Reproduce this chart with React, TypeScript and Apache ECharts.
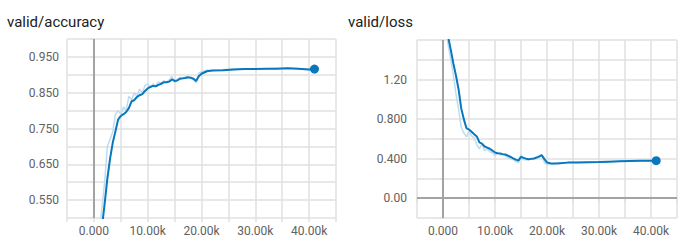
import React, { useEffect, useRef } from "react";
import * as echarts from "echarts";

const steps = [
  0, 500, 1000, 1500, 2000, 2500, 3000, 3500, 4000, 4500, 5000, 5500, 6000, 6500, 7000, 7500, 8000, 8500, 9000, 9500,
  10000, 10500, 11000, 11500, 12000, 12500, 13000, 13500, 14000, 14500, 15000, 15500, 16000, 16500, 17000, 17500,
  18000, 18500, 19000, 19500, 20000, 21000, 22000, 24000, 26000, 28000, 30000, 32000, 34000, 36000, 38000, 40000, 41000,
];

const accSmooth = [
  0.2, 0.3, 0.4, 0.475, 0.54, 0.61, 0.665, 0.71, 0.742, 0.775, 0.785, 0.79, 0.796, 0.807, 0.826, 0.829, 0.838, 0.843,
  0.846, 0.855, 0.862, 0.866, 0.869, 0.868, 0.872, 0.875, 0.879, 0.879, 0.881, 0.887, 0.883, 0.884, 0.889, 0.89, 0.891,
  0.893, 0.892, 0.889, 0.883, 0.896, 0.903, 0.91, 0.912, 0.913, 0.915, 0.916, 0.916, 0.917, 0.917, 0.918, 0.917, 0.915,
  0.916,
];

const accRaw = [
  0.25, 0.38, 0.46, 0.53, 0.6, 0.7, 0.72, 0.74, 0.79, 0.8, 0.79, 0.81, 0.8, 0.84, 0.83, 0.85, 0.84, 0.86, 0.85, 0.87,
  0.875, 0.865, 0.875, 0.868, 0.88, 0.876, 0.884, 0.879, 0.886, 0.895, 0.878, 0.888, 0.893, 0.889, 0.894, 0.893, 0.891,
  0.886, 0.878, 0.905, 0.908, 0.913, 0.912, 0.914, 0.916, 0.916, 0.917, 0.917, 0.918, 0.918, 0.917, 0.914, 0.916,
];

const lossSmooth = [
  2.3, 1.95, 1.63, 1.5, 1.36, 1.24, 1.1, 0.91, 0.8, 0.71, 0.695, 0.672, 0.648, 0.625, 0.565, 0.553, 0.523, 0.512, 0.5,
  0.482, 0.462, 0.455, 0.452, 0.446, 0.442, 0.43, 0.417, 0.403, 0.39, 0.38, 0.418, 0.408, 0.4, 0.394, 0.398, 0.401, 0.41,
  0.42, 0.435, 0.395, 0.362, 0.35, 0.352, 0.36, 0.362, 0.365, 0.367, 0.37, 0.373, 0.376, 0.378, 0.38, 0.38,
];

const lossRaw = [
  2.25, 1.75, 1.55, 1.4, 1.25, 1.05, 0.9, 0.72, 0.66, 0.62, 0.68, 0.63, 0.61, 0.54, 0.5, 0.55, 0.48, 0.5, 0.47, 0.46,
  0.43, 0.46, 0.44, 0.44, 0.43, 0.41, 0.4, 0.39, 0.37, 0.36, 0.44, 0.39, 0.39, 0.39, 0.4, 0.4, 0.42, 0.43, 0.44, 0.36,
  0.34, 0.345, 0.355, 0.36, 0.363, 0.366, 0.368, 0.371, 0.374, 0.377, 0.379, 0.38, 0.38,
];

const titles = ["valid/accuracy", "valid/loss"];

const LINE = "#0877bd";
const RAW = "#c0dbee";
const GRID = "#e0e0e0";
const ZERO = "#a3a3a3";
const LABEL = "#616161";
const FONT = "Roboto";

function xFmt(v: number) {
  const k = Math.round(v);
  if (k % 10000 !== 0 || k < 0 || k > 40000) return "";
  return k === 0 ? "0.000" : (k / 1000).toFixed(2) + "k";
}
function accFmt(v: number) {
  const k = Math.round(v * 100);
  return k % 10 === 5 && k < 100 ? v.toFixed(3) : "";
}
function lossFmt(v: number) {
  const k = Math.round(v * 10);
  return k % 4 === 0 && k >= 0 && k <= 12 ? v.toPrecision(3) : "";
}

export default function App() {
  const ref = useRef<HTMLDivElement>(null);
  useEffect(() => {
    if (!ref.current) return;
    const chart = echarts.init(ref.current, undefined, { renderer: "svg" });
    const pts = (ys: number[]) => steps.map((s, i) => [s, ys[i]]);
    const last = steps.length - 1;
    const xAxisBase = (gridIndex: number) => ({
      type: "value" as const,
      gridIndex,
      min: -5000,
      max: 45000,
      interval: 5000,
      axisLine: { show: false },
      axisTick: { show: true, length: 4, lineStyle: { color: GRID, width: 1.5 } },
      splitLine: { show: true, lineStyle: { color: GRID, width: 1.5 } },
      axisLabel: { formatter: xFmt, color: LABEL, fontSize: 12, fontFamily: FONT, margin: 7 },
    });
    const yAxisBase = (gridIndex: number, min: number, max: number, interval: number, fmt: any, margin: number) => ({
      type: "value" as const,
      gridIndex,
      min,
      max,
      interval,
      axisLine: { show: false },
      axisTick: { show: true, length: 4, lineStyle: { color: GRID, width: 1.5 } },
      splitLine: { show: true, lineStyle: { color: GRID, width: 1.5 } },
      axisLabel: { formatter: fmt, color: LABEL, fontSize: 12, fontFamily: FONT, margin },
    });
    const titleStyle = { fontSize: 15, fontWeight: "normal" as const, color: "#212121", fontFamily: FONT };
    chart.setOption({
      animation: false,
      backgroundColor: "#ffffff",
      title: [
        { text: titles[0], left: 7, top: 14, padding: 0, textStyle: titleStyle },
        { text: titles[1], left: 348, top: 14, padding: 0, textStyle: titleStyle },
      ],
      grid: [
        { left: 67, top: 39, width: 269, height: 179, containLabel: false },
        { left: 417, top: 40, width: 260, height: 178, containLabel: false },
      ],
      xAxis: [xAxisBase(0), xAxisBase(1)],
      yAxis: [
        yAxisBase(0, 0.5, 1.0, 0.05, accFmt, 8),
        yAxisBase(1, -0.2, 1.6, 0.2, lossFmt, 10),
      ],
      series: [
        {
          type: "line", xAxisIndex: 0, yAxisIndex: 0, data: pts(accRaw), symbol: "none",
          lineStyle: { color: RAW, width: 1.5 }, silent: true, z: 2,
          markLine: {
            silent: true, symbol: "none", label: { show: false },
            lineStyle: { color: ZERO, width: 2, type: "solid" },
            data: [{ xAxis: 0 }],
          },
        },
        { type: "line", xAxisIndex: 0, yAxisIndex: 0, data: pts(accSmooth), symbol: "none", lineStyle: { color: LINE, width: 2 }, z: 3 },
        { type: "scatter", xAxisIndex: 0, yAxisIndex: 0, data: [[steps[last], accSmooth[last]]], symbolSize: 9, itemStyle: { color: LINE, opacity: 1 }, z: 4 },
        {
          type: "line", xAxisIndex: 1, yAxisIndex: 1, data: pts(lossRaw), symbol: "none",
          lineStyle: { color: RAW, width: 1.5 }, silent: true, z: 2,
          markLine: {
            silent: true, symbol: "none", label: { show: false },
            lineStyle: { color: ZERO, width: 2, type: "solid" },
            data: [{ xAxis: 0 }, { yAxis: 0 }],
          },
        },
        { type: "line", xAxisIndex: 1, yAxisIndex: 1, data: pts(lossSmooth), symbol: "none", lineStyle: { color: LINE, width: 2 }, z: 3 },
        { type: "scatter", xAxisIndex: 1, yAxisIndex: 1, data: [[steps[last], lossSmooth[last]]], symbolSize: 9, itemStyle: { color: LINE, opacity: 1 }, z: 4 },
      ],
    });
    return () => chart.dispose();
  }, []);
  return <div ref={ref} style={{ position: "fixed", left: 0, top: 0, width: 690, height: 241 }} />;
}
